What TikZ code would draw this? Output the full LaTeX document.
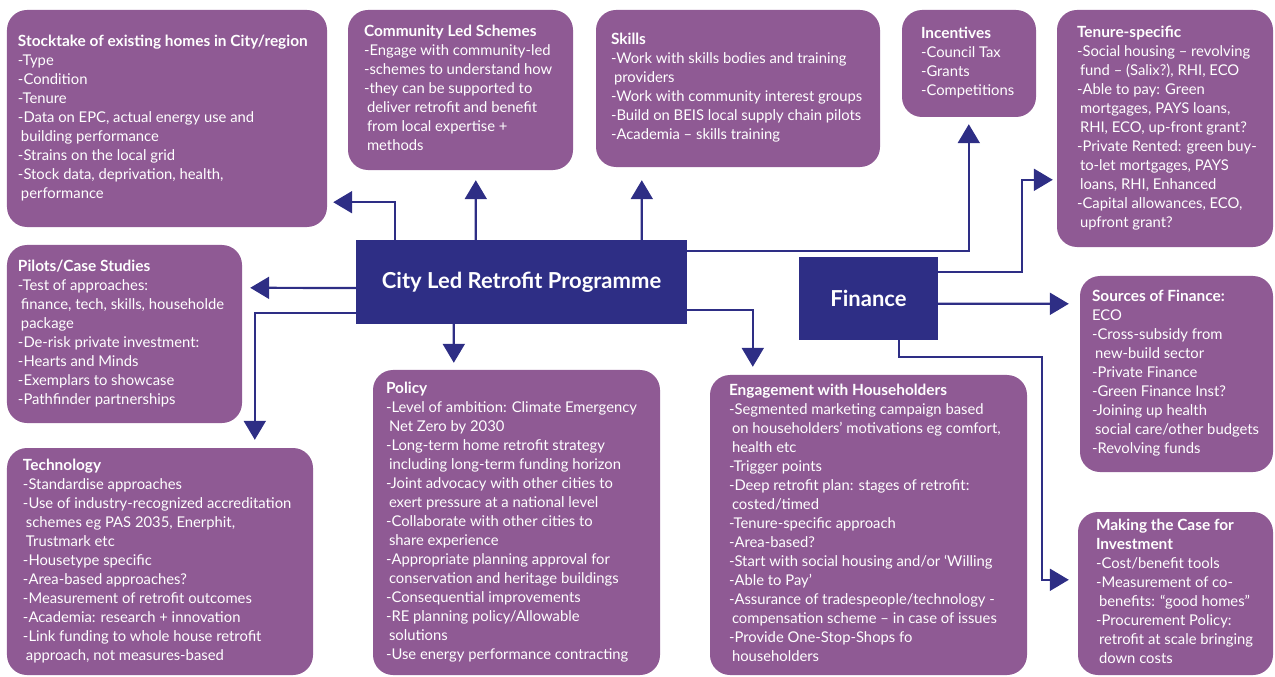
\documentclass[tikz,border=0pt]{standalone}
\usepackage{fontspec}
\setmainfont{Lato}
\usetikzlibrary{arrows.meta,calc}
\definecolor{boxpurple}{RGB}{143,90,148}
\definecolor{hubblue}{RGB}{46,46,133}
\newcommand\ind{\hspace*{3bp}}
\newcommand\ttl[1]{{\fontsize{15.4bp}{19bp}\selectfont\bfseries #1}}
\newcommand\boxtext[2]{\makebox[#1][l]{\begin{tabular}{@{}l@{}}#2\end{tabular}}}
\begin{document}
\begin{tikzpicture}[x=1bp,y=-1bp,
  infobox/.style={fill=boxpurple, rounded corners=20bp, inner sep=0pt, text=white,
    font=\fontsize{14.8bp}{19bp}\selectfont},
  hub/.style={fill=hubblue, inner sep=0pt, text=white,
    font=\fontsize{22bp}{26bp}\selectfont\bfseries},
  conn/.style={draw=hubblue, line width=2.2bp, -{Triangle[length=19bp,width=22bp]}}
]
\useasboundingbox (0,0) rectangle (1275,677);

\node[infobox, minimum width=320bp, minimum height=217bp] (stock) at (167,118.5)
 {\boxtext{298bp}{\ttl{Stocktake of existing homes in City/region}\\
 -Type\\ -Condition\\ -Tenure\\
 -Data on EPC, actual energy use and\\ \ind building performance\\
 -Strains on the local grid\\
 -Stock data, deprivation, health,\\ \ind performance}};

\node[infobox, minimum width=225bp, minimum height=160bp] (comm) at (460.5,90)
 {\boxtext{193bp}{\ttl{Community Led Schemes}\\
 -Engage with community-led\\
 -schemes to understand how\\
 -they can be supported to\\
 \ind deliver retrofit and benefit\\
 \ind from local expertise +\\
 \ind methods}};

\node[infobox, minimum width=284bp, minimum height=157bp] (skills) at (738,88.5)
 {\boxtext{254bp}{\ttl{Skills}\\
 -Work with skills bodies and training\\ \ind providers\\
 -Work with community interest groups\\
 -Build on BEIS local supply chain pilots\\
 -Academia – skills training}};

\node[infobox, minimum width=134bp, minimum height=107bp] (incent) at (969,63.5)
 {\boxtext{96bp}{\ttl{Incentives}\\
 -Council Tax\\ -Grants\\ -Competitions}};

\node[infobox, minimum width=216bp, minimum height=237bp] (tenure) at (1165,128.5)
 {\boxtext{176bp}{\ttl{Tenure-specific}\\
 -Social housing – revolving\\ \ind fund – (Salix?), RHI, ECO\\
 -Able to pay: Green\\ \ind mortgages, PAYS loans,\\ \ind RHI, ECO, up-front grant?\\
 -Private Rented: green buy-\\ \ind to-let mortgages, PAYS\\ \ind loans, RHI, Enhanced\\
 -Capital allowances, ECO,\\ \ind upfront grant?}};

\node[infobox, minimum width=235bp, minimum height=178bp] (pilots) at (124.5,334)
 {\boxtext{213bp}{\ttl{Pilots/Case Studies}\\
 -Test of approaches:\\ \ind finance, tech, skills, householde\\ \ind package\\
 -De-risk private investment:\\ -Hearts and Minds\\
 -Exemplars to showcase\\ -Pathfinder partnerships}};

\node[infobox, minimum width=193bp, minimum height=196bp] (sources) at (1176.5,374)
 {\boxtext{169bp}{\ttl{Sources of Finance:}\\
 ECO\\ -Cross-subsidy from\\ \ind new-build sector\\
 -Private Finance\\ -Green Finance Inst?\\
 -Joining up health\\ \ind social care/other budgets\\
 -Revolving funds}};

\node[infobox, minimum width=306bp, minimum height=227bp] (tech) at (160,561.5)
 {\boxtext{274bp}{\ttl{Technology}\\
 -Standardise approaches\\
 -Use of industry-recognized accreditation\\
 \ind schemes eg PAS 2035, Enerphit,\\ \ind Trustmark etc\\
 -Housetype specific\\ -Area-based approaches?\\
 -Measurement of retrofit outcomes\\
 -Academia: research + innovation\\
 -Link funding to whole house retrofit\\ \ind approach, not measures-based}};

\node[infobox, minimum width=287bp, minimum height=305bp] (policy) at (516.5,522.5)
 {\boxtext{261bp}{\ttl{Policy}\\
 -Level of ambition: Climate Emergency\\ \ind Net Zero by 2030\\
 -Long-term home retrofit strategy\\ \ind including long-term funding horizon\\
 -Joint advocacy with other cities to\\ \ind exert pressure at a national level\\
 -Collaborate with other cities to\\ \ind share experience\\
 -Appropriate planning approval for\\ \ind conservation and heritage buildings\\
 -Consequential improvements\\
 -RE planning policy/Allowable\\ \ind solutions\\
 -Use energy performance contracting}};

\node[infobox, minimum width=317bp, minimum height=300bp] (engage) at (868.5,525)
 {\boxtext{279bp}{\ttl{Engagement with Householders}\\
 -Segmented marketing campaign based\\
 \ind on householders’ motivations eg comfort,\\ \ind health etc\\
 -Trigger points\\
 -Deep retrofit plan: stages of retrofit:\\ \ind costed/timed\\
 -Tenure-specific approach\\ -Area-based?\\
 -Start with social housing and/or ‘Willing\\ -Able to Pay’\\
 -Assurance of tradespeople/technology -\\
 \ind compensation scheme – in case of issues\\
 -Provide One-Stop-Shops fo\\ \ind householders}};

\node[infobox, minimum width=195bp, minimum height=163bp] (case) at (1175.5,593.5)
 {\boxtext{159bp}{\ttl{Making the Case for}\\ \ttl{Investment}\\
 -Cost/benefit tools\\
 -Measurement of co-\\ \ind benefits: “good homes”\\
 -Procurement Policy:\\ \ind retrofit at scale bringing\\ \ind down costs}};

\node[hub, minimum width=331bp, minimum height=84bp] (city) at (521.5,282) {City Led Retrofit Programme};
\node[hub, minimum width=139bp, minimum height=83bp] (fin) at (868.5,298.5) {Finance};

% connectors from the programme box
\draw[conn] ($(city.north west)+(39,0)$) |- ($(stock.south east)+(6,-25)$);
\draw[conn] ($(city.north west)+(120,0)$) -- ($(comm.south west)+(128,10)$);
\draw[conn] ($(city.north west)+(286,0)$) -- ($(skills.south west)+(46,13)$);
\draw[conn] ($(city.north east)+(0,11)$) -| ($(incent.south west)+(67,7)$);
\draw[conn] ($(city.west)+(0,6)$) -- ($(pilots.north east)+(8,43)$);
\draw[conn] ($(city.south west)+(0,-11)$) -| ($(tech.north west)+(248,-8)$);
\draw[conn] ($(city.south west)+(98,0)$) -- ($(policy.north west)+(81,-7)$);
\draw[conn] ($(city.south east)+(0,-14)$) -| ($(engage.north west)+(43,-8)$);
% connectors from finance
\draw[conn] ($(fin.north east)+(0,15)$) -| ($(tenure.north west)+(-35,170)$) -- ($(tenure.north west)+(-4,170)$);
\draw[conn] ($(fin.north east)+(0,47)$) -- ($(sources.north west)+(-11,28)$);
\draw[conn] ($(fin.south west)+(100,0)$) |- ($(case.north west)+(-36,-155)$) |- ($(case.north west)+(-9,68)$);
\end{tikzpicture}
\end{document}
